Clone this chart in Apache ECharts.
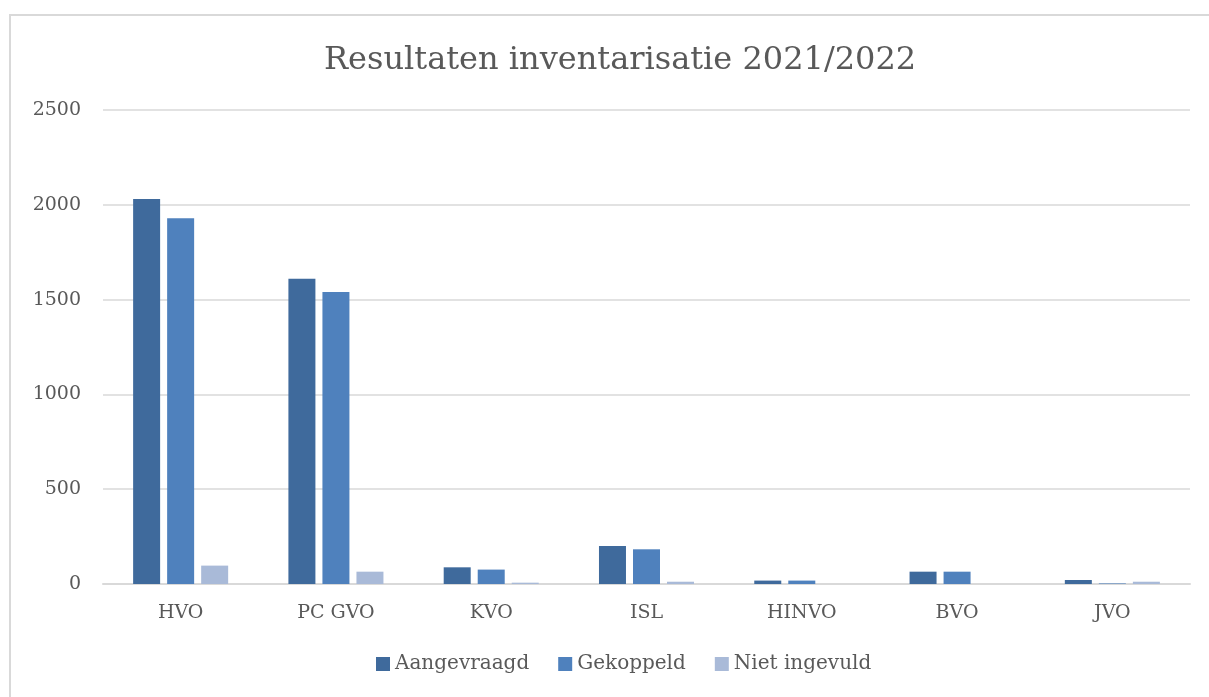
<!DOCTYPE html>
<html><head><meta charset="utf-8">
<script src="https://cdn.jsdelivr.net/npm/echarts@6/dist/echarts.min.js"></script>
<style>html,body{margin:0;padding:0;background:#fff}#c{width:1209px;height:697px}</style>
</head><body><div id="c"></div>
<script>
const categories = ['HVO','PC GVO','KVO','ISL','HINVO','BVO','JVO'];
const aangevraagd = [2030, 1610, 88, 201, 18, 65, 21];
const gekoppeld = [1929, 1540, 76, 183, 18, 65, 3];
const nietIngevuld = [97, 65, 7, 12, 0, 0, 12];
const yTicks = {min: 0, max: 2500, interval: 500};

const font = 'DejaVu Serif';
const txt = '#595959';
const chart = echarts.init(document.getElementById('c'));
chart.setOption({
  animation: false,
  graphic: [{type:'polyline', shape:{points:[[10,697],[10,15],[1209,15]]}, style:{stroke:'#d9d9d9', lineWidth:2, fill:null}}],
  title: {text:'Resultaten inventarisatie 2021/2022', left:319, top:40,
    textStyle:{fontFamily:font, fontSize:32, fontWeight:'normal', color:txt}},
  legend: {bottom:18, left:371, itemWidth:14, itemHeight:14, itemGap:29, icon:'rect',
    textStyle:{fontFamily:font, fontSize:20, color:txt}},
  grid: {left:103, right:19, top:110, bottom:113, containLabel:false},
  xAxis: {type:'category', data:categories,
    axisLine:{lineStyle:{color:'#d9d9d9', width:2}}, axisTick:{show:false},
    axisLabel:{fontFamily:font, fontSize:19, color:txt, margin:20}},
  yAxis: {type:'value', min:yTicks.min, max:yTicks.max, interval:yTicks.interval,
    axisLine:{show:false}, axisTick:{show:false},
    splitLine:{lineStyle:{color:'#d9d9d9', width:1.5}},
    axisLabel:{fontFamily:font, fontSize:19, color:txt, margin:22, formatter: v => String(v)}},
  series: [
    {name:'Aangevraagd', type:'bar', data:aangevraagd, barWidth:27, barGap:'26%', itemStyle:{color:'#3f6a9c'}},
    {name:'Gekoppeld', type:'bar', data:gekoppeld, barWidth:27, itemStyle:{color:'#4f81bd'}},
    {name:'Niet ingevuld', type:'bar', data:nietIngevuld, barWidth:27, itemStyle:{color:'#a9bad8'}}
  ]
});
</script></body></html>
